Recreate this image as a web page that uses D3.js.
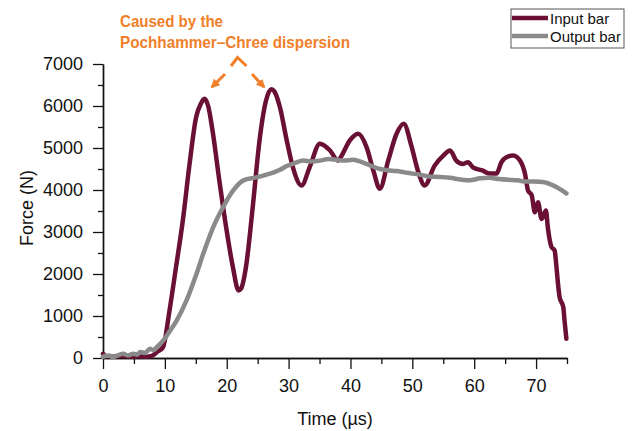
<!DOCTYPE html>
<html>
<head>
<meta charset="utf-8">
<script src="https://cdn.jsdelivr.net/npm/d3@7"></script>
<style>
  html, body { margin: 0; padding: 0; background: #fff; }
  svg { display: block; }
  text { font-family: "Liberation Sans", Arial, sans-serif; }
</style>
</head>
<body>
<svg id="chart" width="634" height="431"></svg>
<script>
// Input bar force history (time in µs, force in N)
const inputTime = [0, 0.5, 1.5, 3, 4.5, 6, 7, 8, 8.7, 9.7, 10.75, 11.8, 12.9, 14.0, 15.05, 15.8, 16.4, 17.0, 17.7, 18.8, 19.9, 21.0, 21.9, 22.3, 23.1, 24.2, 25.3, 26.3, 27.2, 27.7, 28.6, 29.7, 30.7, 32.1, 33.4, 35.05, 36.7, 38.0, 38.5, 39.9, 41.25, 42.6, 43.7, 44.75, 46.1, 47.45, 48.6, 49.9, 50.9, 52.0, 53.6, 55.0, 56.1, 57.1, 58.2, 59.0, 59.8, 61.4, 62.5, 63.6, 64.4, 65.2, 66.3, 67.4, 68.2, 68.7, 69.3, 69.8, 70.3, 70.9, 71.6, 71.9, 72.5, 73.0, 73.3, 73.6, 73.8, 74.4, 74.6, 74.9];
const inputForce = [100, 40, 30, 50, 30, 40, 30, 60, 140, 257, 1130, 2160, 3270, 4630, 5730, 6050, 6170, 6000, 5420, 4230, 3115, 2160, 1610, 1650, 2160, 3590, 5180, 6100, 6400, 6350, 5970, 5180, 4540, 4110, 4540, 5100, 4940, 4700, 4800, 5180, 5340, 5020, 4460, 4030, 4700, 5340, 5580, 5020, 4460, 4110, 4580, 4820, 4940, 4700, 4620, 4660, 4540, 4460, 4390, 4390, 4660, 4780, 4820, 4700, 4390, 3990, 3870, 3470, 3710, 3310, 3510, 3110, 2640, 2560, 2160, 1690, 1450, 1210, 890, 460];

// Output bar force history
const outputTime = [0, 0.5, 1, 1.5, 2, 2.5, 3.3, 4, 4.9, 5.5, 6, 6.8, 7.6, 8.2, 8.7, 9.75, 10.8, 11.9, 13.5, 15.1, 16.2, 17.8, 19.4, 21.05, 22.7, 24.8, 27.0, 27.8, 28.6, 29.7, 31, 32.4, 33.5, 35.1, 36.4, 37.75, 39, 40.4, 41.5, 42.6, 43.6, 44.75, 46, 47.45, 48.7, 50.1, 51.4, 52.8, 54.3, 56.1, 57.8, 59.3, 61, 62.5, 64, 65.75, 67, 68.45, 69.8, 71.1, 72.75, 74, 74.9];
const outputForce = [30, 50, 60, 20, 40, 70, 100, 60, 100, 80, 140, 120, 220, 190, 260, 420, 640, 890, 1370, 2000, 2480, 3110, 3590, 3990, 4230, 4300, 4390, 4430, 4480, 4570, 4640, 4700, 4680, 4700, 4740, 4720, 4700, 4720, 4680, 4620, 4560, 4500, 4470, 4450, 4420, 4390, 4360, 4320, 4310, 4290, 4250, 4230, 4280, 4290, 4260, 4240, 4230, 4200, 4200, 4190, 4110, 4010, 3920];

const xMajorTicks = [0, 10, 20, 30, 40, 50, 60, 70];
const xMinorTicks = [5, 15, 25, 35, 45, 55, 65, 75];
const yMajorTicks = [0, 1000, 2000, 3000, 4000, 5000, 6000, 7000];
const yMinorTicks = [500, 1500, 2500, 3500, 4500, 5500, 6500];

const seriesNames = ["Input bar", "Output bar"];
const seriesColors = ["#6b1035", "#8a8a8a"];

const annotationLines = ["Caused by the", "Pochhammer\u2013Chree dispersion"];
const annoColor = "#f07f2a";

const svg = d3.select("#chart");

const x = d3.scaleLinear().domain([0, 75]).range([103, 567]);
const y = d3.scaleLinear().domain([0, 7000]).range([358, 64]);

// Axes
const axisFont = "18px";
const gx = svg.append("g").attr("transform", `translate(0,${y(0)})`);
gx.call(d3.axisBottom(x).tickValues(xMajorTicks).tickSize(11).tickSizeOuter(0).tickPadding(10).tickFormat(d3.format("d")));
gx.append("g").call(d3.axisBottom(x).tickValues(xMinorTicks).tickSize(6).tickSizeOuter(0).tickFormat(""));

const gy = svg.append("g").attr("transform", `translate(${x(0)},0)`);
gy.call(d3.axisLeft(y).tickValues(yMajorTicks).tickSize(10).tickSizeOuter(0).tickPadding(10).tickFormat(d3.format("d")));
gy.append("g").call(d3.axisLeft(y).tickValues(yMinorTicks).tickSize(5).tickSizeOuter(0).tickFormat(""));

svg.selectAll(".domain").attr("stroke", "#111").attr("stroke-width", 1.4);
svg.selectAll(".tick line").attr("stroke", "#111").attr("stroke-width", 1.3);
svg.selectAll(".tick text").attr("font-size", axisFont).attr("fill", "#111")
   .attr("font-family", "'Liberation Sans', Arial, sans-serif");

// Axis titles
svg.append("text")
  .attr("x", (x(0) + x(75)) / 2).attr("y", 425)
  .attr("text-anchor", "middle").attr("font-size", axisFont).attr("fill", "#111")
  .text("Time (\u00b5s)");
svg.append("text")
  .attr("transform", `translate(33,${(y(0) + y(7000)) / 2 - 3}) rotate(-90)`)
  .attr("text-anchor", "middle").attr("font-size", axisFont).attr("fill", "#111")
  .text("Force (N)");

// Curves
const line = d3.line().x(d => x(d[0])).y(d => y(d[1])).curve(d3.curveMonotoneX);
const inputData = inputTime.map((t, i) => [t, inputForce[i]]);
const outputData = outputTime.map((t, i) => [t, outputForce[i]]);

svg.append("path").datum(inputData)
  .attr("d", line).attr("fill", "none")
  .attr("stroke", seriesColors[0]).attr("stroke-width", 4.5)
  .attr("stroke-linejoin", "round").attr("stroke-linecap", "round");
svg.append("path").datum(outputData)
  .attr("d", line).attr("fill", "none")
  .attr("stroke", seriesColors[1]).attr("stroke-width", 4.5)
  .attr("stroke-linejoin", "round").attr("stroke-linecap", "round");

// Legend
const lg = svg.append("g");
lg.append("rect").attr("x", 511).attr("y", 9).attr("width", 113).attr("height", 39)
  .attr("fill", "#fff").attr("stroke", "#555").attr("stroke-width", 1);
seriesNames.forEach((name, i) => {
  const cy = 18 + i * 18;
  lg.append("line").attr("x1", 512).attr("x2", 548).attr("y1", cy).attr("y2", cy)
    .attr("stroke", seriesColors[i]).attr("stroke-width", 4.5);
  lg.append("text").attr("x", 550).attr("y", cy + 5.5)
    .attr("font-size", "15px").attr("fill", "#111").text(name);
});

// Annotation
const anno = svg.append("g");
anno.append("text").attr("x", 120).attr("y", 27)
  .attr("font-size", "17px").attr("font-weight", "bold").attr("fill", annoColor)
  .attr("textLength", 103).attr("lengthAdjust", "spacingAndGlyphs")
  .text(annotationLines[0]);
anno.append("text").attr("x", 120).attr("y", 48)
  .attr("font-size", "17px").attr("font-weight", "bold").attr("fill", annoColor)
  .attr("textLength", 230).attr("lengthAdjust", "spacingAndGlyphs")
  .text(annotationLines[1]);

anno.append("polyline")
  .attr("points", "231,66 237.5,57.5 246.5,66")
  .attr("fill", "none").attr("stroke", annoColor).attr("stroke-width", 3);

svg.append("defs").append("marker")
  .attr("id", "arrowhead").attr("viewBox", "0 0 10 10")
  .attr("refX", 8).attr("refY", 5)
  .attr("markerWidth", 3).attr("markerHeight", 3)
  .attr("markerUnits", "strokeWidth").attr("orient", "auto")
  .append("path").attr("d", "M0,0 L10,5 L0,10 Z").attr("fill", annoColor);

anno.append("line").attr("x1", 225).attr("y1", 74).attr("x2", 212).attr("y2", 87)
  .attr("stroke", annoColor).attr("stroke-width", 3).attr("marker-end", "url(#arrowhead)");
anno.append("line").attr("x1", 252).attr("y1", 74).attr("x2", 264).attr("y2", 87)
  .attr("stroke", annoColor).attr("stroke-width", 3).attr("marker-end", "url(#arrowhead)");
</script>
</body>
</html>
